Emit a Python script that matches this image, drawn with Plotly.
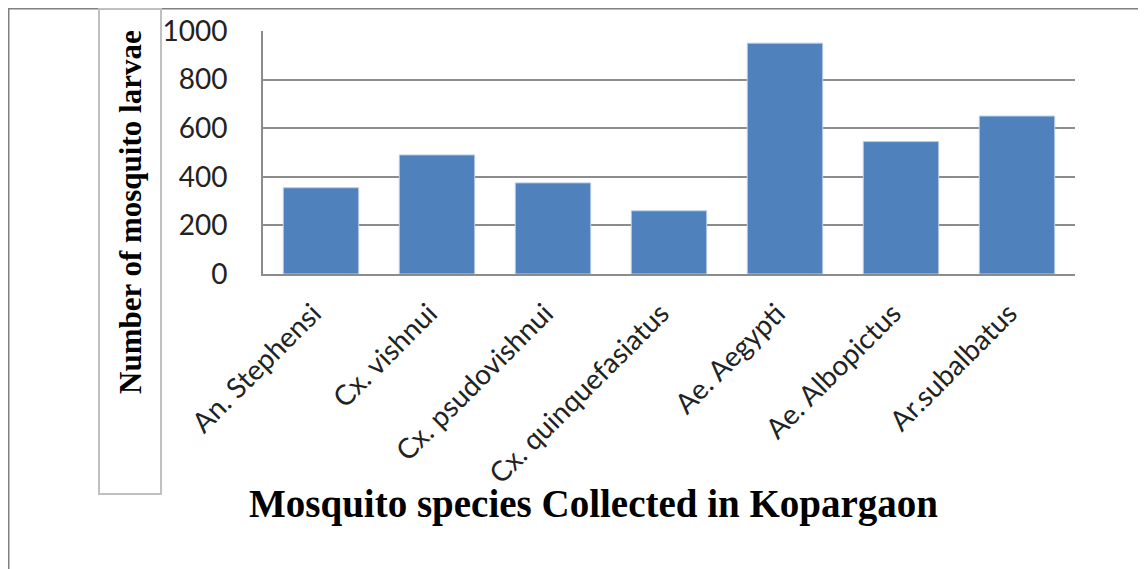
import plotly.graph_objects as go

species = ["An. Stephensi", "Cx. vishnui", "Cx. psudovishnui", "Cx. quinquefasiatus",
           "Ae. Aegypti", "Ae. Albopictus", "Ar.subalbatus"]
larvae = [355, 490, 375, 260, 950, 545, 650]
y_ticks = [0, 200, 400, 600, 800, 1000]

# page adds an 8px body margin; work in screen pixels and convert
OFF = 8
W, H = 1146 - OFF, 569 - OFF
L, R, T, B = 263 - OFF, 1075 - OFF, 31 - OFF, 274 - OFF

def px(x):
    return (x - OFF - L) / (R - L)

def py(y):
    return (B - (y - OFF)) / (B - T)

fig = go.Figure(go.Bar(
    x=species, y=larvae,
    marker=dict(color="#4F81BD", line=dict(color="#B9CDE5", width=1)),
    width=0.65,
))

fig.update_layout(
    width=W, height=H,
    margin=dict(l=L, r=W - R, t=T, b=H - B, autoexpand=False),
    paper_bgcolor="white", plot_bgcolor="white",
    showlegend=False,
    font=dict(family="Lato, Open Sans, sans-serif", color="#000000"),
)
fig.update_yaxes(
    range=[0, 1000], tickvals=y_ticks, ticktext=[str(v) for v in y_ticks],
    showgrid=True, gridcolor="#8C8C8C", gridwidth=2,
    showline=True, linecolor="#8C8C8C", linewidth=2,
    zeroline=False, ticks="", ticklabelstandoff=28, automargin=False,
    tickfont=dict(size=28, family="Lato, Open Sans, sans-serif", color="#222"),
)
fig.update_xaxes(
    showline=True, linecolor="#8C8C8C", linewidth=2, mirror=False,
    tickangle=-45, ticks="", ticklabelstandoff=10, ticklabelshift=-8,
    automargin=False,
    tickfont=dict(size=28, family="Lato, Open Sans, sans-serif", color="#222"),
)

shapes = [
    # outer frame (left and top)
    dict(type="line", xref="paper", yref="paper", x0=px(8), x1=px(8), y0=py(8), y1=py(580),
         line=dict(color="#808080", width=3)),
    dict(type="line", xref="paper", yref="paper", x0=px(8), x1=px(1160), y0=py(8), y1=py(8),
         line=dict(color="#808080", width=3)),
    # y-title box
    dict(type="rect", xref="paper", yref="paper", x0=px(99), x1=px(161), y0=py(8), y1=py(494),
         line=dict(color="#C0C0C0", width=2), fillcolor="rgba(0,0,0,0)"),
]
fig.update_layout(shapes=shapes)

fig.add_annotation(
    text="<b>Number of mosquito larvae</b>", textangle=-90,
    xref="paper", yref="paper", x=px(130), y=py(212),
    showarrow=False, xanchor="center", yanchor="middle",
    font=dict(family="Liberation Serif, DejaVu Serif, serif", size=31, color="#000"),
)
fig.add_annotation(
    text="<b>Mosquito species Collected in Kopargaon</b>",
    xref="paper", yref="paper", x=px(593), y=py(504),
    showarrow=False, xanchor="center", yanchor="middle",
    font=dict(family="Liberation Serif, DejaVu Serif, serif", size=39, color="#000"),
)

fig.write_html("out.html")
